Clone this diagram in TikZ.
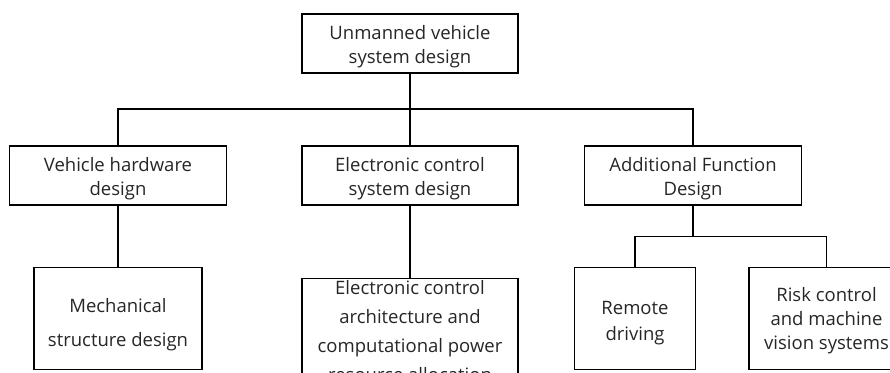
\documentclass[tikz,border=0pt]{standalone}
\usepackage{fontspec}
\setmainfont{Open Sans}
\begin{document}
\begin{tikzpicture}[x=1pt,y=-1pt,
  box/.style={draw=black, line width=1.5pt, inner sep=0pt},
  txt/.style={align=center, inner sep=0pt, font=\fontsize{18.5}{24}\selectfont, text=black!85},
  link/.style={line width=1.5pt}]
\useasboundingbox (0,0) rectangle (890,372);
\clip (0,0) rectangle (890,372);
\node[box, minimum width=216pt, minimum height=59pt] (top) at (410,43.5) {};
\node[box, minimum width=217pt, minimum height=59pt] (veh) at (118,175.5) {};
\node[box, minimum width=216pt, minimum height=59pt] (ecs) at (410,175.5) {};
\node[box, minimum width=217pt, minimum height=59pt] (add) at (693,175.5) {};
\node[box, minimum width=168pt, minimum height=102pt] (mech) at (118,318.5) {};
\node[box, minimum width=216pt, minimum height=106pt] (arch) at (410,331.5) {};
\node[box, minimum width=121pt, minimum height=102pt] (rem) at (635,318.5) {};
\node[box, minimum width=155pt, minimum height=102pt] (risk) at (826.5,318.5) {};
\node[txt] (topt) at ([yshift=-3pt]top.center) {Unmanned vehicle\\system design};
\node[txt] (veht) at ([yshift=-3.5pt]veh.center) {Vehicle hardware\\design};
\node[txt] (ecst) at ([yshift=-3.5pt]ecs.center) {Electronic control\\system design};
\node[txt] (addt) at ([yshift=-3.5pt]add.center) {Additional Function\\Design};
\node[txt, font=\fontsize{18.5}{34}\selectfont] (mecht) at ([yshift=-6pt]mech.center) {Mechanical\\structure design};
\node[txt, font=\fontsize{18.5}{29}\selectfont] (archt) at (arch.center) {Electronic control\\architecture and\\computational power\\resource allocation};
\node[txt, font=\fontsize{18.5}{26}\selectfont] (remt) at ([yshift=-5pt]rem.center) {Remote\\driving};
\node[txt] (riskt) at ([yshift=-2.5pt]risk.center) {Risk control\\and machine\\vision systems};
\coordinate (j1) at (410,109);
\coordinate (j2) at (693,236.7);
\draw[link] (top.south) -- (j1);
\draw[link] (j1) -| (veh.north);
\draw[link] (j1) -| (add.north);
\draw[link] (j1) -- (ecs.north);
\draw[link] (veh.south) -- (mech.north);
\draw[link] (ecs.south) -- (arch.north);
\draw[link] (add.south) -- (j2);
\draw[link] (j2) -| (rem.north);
\draw[link] (j2) -| (risk.north);
\end{tikzpicture}
\end{document}
